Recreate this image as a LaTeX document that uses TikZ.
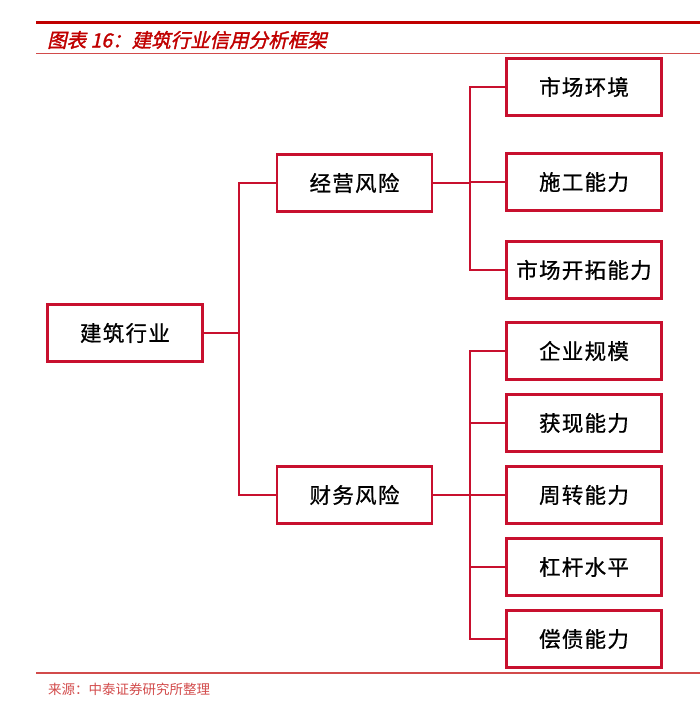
\documentclass[tikz,border=0pt]{standalone}
\usepackage{fontspec}
\newfontfamily\cjk{Noto Sans CJK SC}
\newfontfamily\cjkbox[LetterSpace=6,FakeBold=0.8]{Noto Sans CJK SC}
\newfontfamily\cjktitle[FakeSlant=0.22,FakeBold=1.6]{Noto Sans CJK SC}
\definecolor{boxred}{HTML}{C8102E}
\definecolor{titlered}{HTML}{C00000}
\definecolor{footred}{HTML}{D24B4B}
\begin{document}
\begin{tikzpicture}[x=1pt,y=-1pt,
  box/.style={draw=boxred,line width=2.4pt,minimum width=155pt,minimum height=57pt,inner sep=0pt,font=\cjkbox\fontsize{21.5}{24}\selectfont,text=black},
  conn/.style={draw=boxred,line width=2pt}]
\useasboundingbox (0,0) rectangle (700,719);
% title
\draw[titlered,line width=3pt] (36,23) -- (700,23);
\draw[footred,line width=1pt] (36,54) -- (700,54);
\node[anchor=west,text=titlered,font=\cjktitle\fontsize{19.5}{22}\selectfont,inner sep=0pt] (title) at (47,40) {图表 16：建筑行业信用分析框架};
% footer
\draw[footred,line width=2pt] (36,673) -- (700,673);
\node[anchor=west,text=footred,font=\cjk\fontsize{13.5}{16}\selectfont,inner sep=0pt] (foot) at (48,689) {来源：中泰证券研究所整理};
% boxes
\node[box] (root) at (125,333) {建筑行业};
\node[box] (op) at (354.5,183) {经营风险};
\node[box] (fin) at (354.5,495) {财务风险};
\node[box] (a1) at (584,87) {市场环境};
\node[box] (a2) at (584,182) {施工能力};
\node[box] (a3) at (584,270) {市场开拓能力};
\node[box] (b1) at (584,351) {企业规模};
\node[box] (b2) at (584,423) {获现能力};
\node[box] (b3) at (584,495) {周转能力};
\node[box] (b4) at (584,567) {杠杆水平};
\node[box] (b5) at (584,639) {偿债能力};
% connectors
\coordinate (j1) at (239,333);
\coordinate (j2) at (470,183);
\coordinate (j3) at (470,495);
\draw[conn] (root.east) -- (j1);
\draw[conn] (j1) |- (op.west);
\draw[conn] (j1) |- (fin.west);
\draw[conn] (op.east) -- (j2);
\draw[conn] (j2) |- (a1.west);
\draw[conn] (j2) |- (a2.west);
\draw[conn] (j2) |- (a3.west);
\draw[conn] (fin.east) -- (j3);
\draw[conn] (j3) |- (b1.west);
\draw[conn] (j3) |- (b2.west);
\draw[conn] (j3) |- (b3.west);
\draw[conn] (j3) |- (b4.west);
\draw[conn] (j3) |- (b5.west);
\end{tikzpicture}
\end{document}
